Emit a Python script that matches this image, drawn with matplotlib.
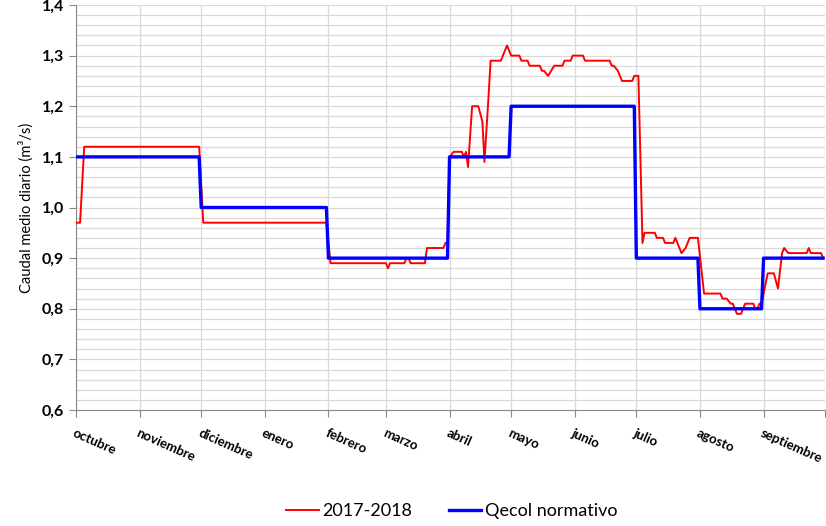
import matplotlib
matplotlib.use("Agg")
import matplotlib.pyplot as plt
import numpy as np
from matplotlib.ticker import FixedLocator, MultipleLocator, FuncFormatter

plt.rcParams["font.family"] = ["Lato", "DejaVu Sans"]

# hydrological year Oct 2017 - Sep 2018
months = ["octubre", "noviembre", "diciembre", "enero", "febrero", "marzo",
          "abril", "mayo", "junio", "julio", "agosto", "septiembre"]
days_in_month = [31, 30, 31, 31, 28, 31, 30, 31, 30, 31, 31, 30]

# ecological flow requirement per month (m3/s)
qecol = [1.10, 1.10, 1.00, 1.00, 0.90, 0.90, 1.10, 1.20, 1.20, 0.90, 0.80, 0.90]

# observed daily mean flow 2017-2018: day of year (from 1 Oct) and value
obs_day = [0, 2, 4, 60, 62, 122, 124, 151, 152, 153, 160, 161, 162, 163, 170,
           171, 179, 180, 181, 182, 184, 188, 189, 190, 191, 193, 196, 198, 199,
           201, 202, 207, 210, 212, 216, 217, 220, 221, 226, 227, 228, 230, 233,
           237, 238, 241, 242, 247, 248, 260, 261, 262, 264, 266, 271, 272, 274,
           276, 277, 282, 283, 286, 287, 291, 292, 295, 297, 299, 303, 306, 314,
           315, 317, 319, 320, 322, 324, 326, 330, 331, 332, 333, 334, 337, 340,
           342, 344, 345, 347, 356, 357, 358, 363, 364]
obs_val = [0.97, 0.97, 1.12, 1.12, 0.97, 0.97, 0.89, 0.89, 0.88, 0.89, 0.89,
           0.90, 0.90, 0.89, 0.89, 0.92, 0.92, 0.93, 0.93, 1.10, 1.11, 1.11,
           1.10, 1.11, 1.08, 1.20, 1.20, 1.17, 1.09, 1.22, 1.29, 1.29, 1.32,
           1.30, 1.30, 1.29, 1.29, 1.28, 1.28, 1.27, 1.27, 1.26, 1.28, 1.28,
           1.29, 1.29, 1.30, 1.30, 1.29, 1.29, 1.28, 1.28, 1.27, 1.25, 1.25,
           1.26, 1.26, 0.93, 0.95, 0.95, 0.94, 0.94, 0.93, 0.93, 0.94, 0.91,
           0.92, 0.94, 0.94, 0.83, 0.83, 0.82, 0.82, 0.81, 0.81, 0.79, 0.79,
           0.81, 0.81, 0.80, 0.80, 0.81, 0.81, 0.87, 0.87, 0.84, 0.91, 0.92,
           0.91, 0.91, 0.92, 0.91, 0.91, 0.90]

month_start = np.concatenate([[0], np.cumsum(days_in_month)[:-1]])
qecol_daily = np.repeat(qecol, days_in_month)

fig = plt.figure(figsize=(8.26, 5.26), dpi=100)
ax = fig.add_axes([0.092, 0.2205, 0.907, 0.770])

ax.plot(obs_day, obs_val, color="#ff0000", lw=1.4, label="2017-2018", zorder=3)
ax.plot(np.arange(len(qecol_daily)), qecol_daily, color="#0000ff", lw=2.4,
        label="Qecol normativo", zorder=4)

ax.set_xlim(0, 365)
ax.set_ylim(0.6, 1.4)
ax.yaxis.set_major_locator(MultipleLocator(0.1))
ax.yaxis.set_minor_locator(MultipleLocator(0.02))
ax.yaxis.set_major_formatter(FuncFormatter(lambda v, p: f"{v:.1f}".replace(".", ",")))
ax.xaxis.set_major_locator(FixedLocator(list(month_start) + [365]))
ax.set_xticklabels(months + [""], rotation=-24, ha="left", va="top",
                   rotation_mode="anchor", fontweight="bold", fontsize=9.5)
ax.tick_params(axis="x", length=5, color="#888888", pad=7)
ax.tick_params(axis="y", which="major", length=5, color="#888888",
               labelsize=11.5)
ax.tick_params(axis="y", which="minor", length=0)
for lab in ax.get_yticklabels():
    lab.set_fontweight("bold")

ax.grid(True, which="both", axis="y", color="#d9d9d9", lw=0.9)
ax.grid(True, which="major", axis="x", color="#d9d9d9", lw=0.9)
ax.set_axisbelow(True)
for s in ("top", "right"):
    ax.spines[s].set_visible(False)
for s in ("left", "bottom"):
    ax.spines[s].set_color("#888888")

ax.set_ylabel("Caudal medio diario (m³/s)", fontsize=10.5, labelpad=6)

fig.legend(loc="center", bbox_to_anchor=(0.547, 0.028), ncol=2, frameon=False,
           fontsize=13, handlelength=1.8, handletextpad=0.2, columnspacing=2.0)

fig.savefig("out.png", dpi=100)
